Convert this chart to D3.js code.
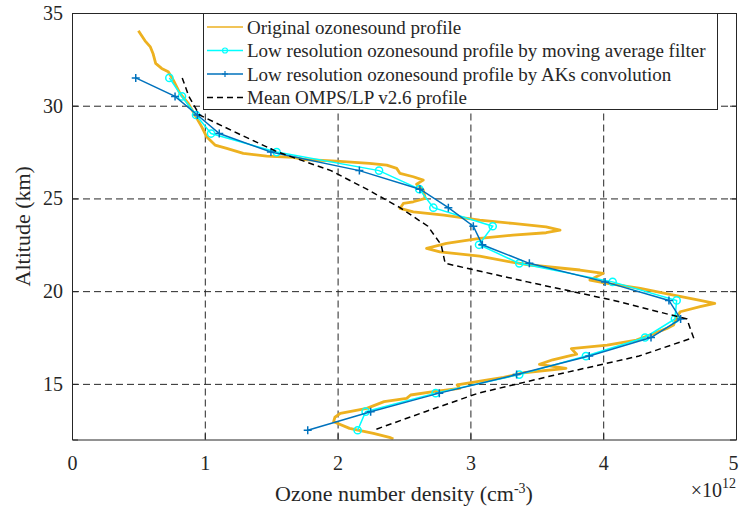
<!DOCTYPE html>
<html>
<head>
<meta charset="utf-8">
<script src="https://cdn.jsdelivr.net/npm/d3@7"></script>
<style>
  body { margin: 0; background: #fff; }
  svg text { font-family: "Liberation Serif", "Tinos", "Times New Roman", "DejaVu Serif", serif; fill: #262626; }
</style>
</head>
<body>
<div id="graph"></div>
<script>
// original ozonesonde profile (altitude km, density 1e12 cm-3)
const origAlt = [34.04, 33.5, 33.17, 32.82, 32.28, 32.01, 31.83, 31.38, 30.66, 30.12, 29.49, 28.86, 28.32, 27.88, 27.7, 27.43, 27.28, 27.21, 27.1, 27.01, 26.89, 26.8, 26.62, 26.35, 26.17, 25.99, 25.77, 25.45, 25.0, 24.82, 24.73, 24.46, 24.28, 24.1, 23.83, 23.65, 23.47, 23.29, 23.15, 23.02, 22.85, 22.58, 22.31, 22.12, 21.89, 21.58, 21.41, 21.14, 20.96, 20.6, 20.42, 20.15, 19.79, 19.52, 19.34, 19.16, 18.89, 18.53, 18.17, 17.99, 17.63, 17.36, 17.09, 16.9, 16.6, 16.3, 16.05, 15.84, 15.6, 15.35, 15.2, 14.94, 14.76, 14.58, 14.4, 14.22, 14.04, 13.68, 13.41, 13.2, 12.96, 12.6, 12.33, 12.12, 12.02];
const origVal = [0.50, 0.55, 0.59, 0.61, 0.63, 0.675, 0.725, 0.763, 0.813, 0.876, 0.926, 0.977, 1.014, 1.077, 1.165, 1.29, 1.466, 1.667, 1.74, 1.99, 2.24, 2.37, 2.445, 2.47, 2.57, 2.645, 2.595, 2.645, 2.66, 2.57, 2.495, 2.47, 2.57, 2.80, 3.07, 3.32, 3.57, 3.675, 3.57, 3.32, 3.07, 2.82, 2.67, 2.77, 3.07, 3.30, 3.45, 3.825, 4.0, 3.90, 4.03, 4.28, 4.53, 4.72, 4.84, 4.73, 4.58, 4.55, 4.53, 4.48, 4.35, 4.25, 4.03, 3.76, 3.80, 3.62, 3.52, 3.72, 3.40, 3.25, 3.12, 2.90, 2.92, 2.72, 2.55, 2.52, 2.35, 2.22, 2.02, 1.98, 1.97, 2.09, 2.27, 2.39, 2.42];

// low resolution profiles on a 1 km grid
const lowAlt = [31.5, 30.5, 29.5, 28.5, 27.5, 26.5, 25.5, 24.5, 23.5, 22.5, 21.5, 20.5, 19.5, 18.5, 17.5, 16.5, 15.5, 14.5, 13.5, 12.5];
const movAvg = [0.733, 0.828, 0.934, 1.047, 1.541, 2.312, 2.615, 2.721, 3.168, 3.065, 3.368, 4.071, 4.553, 4.54, 4.315, 3.87, 3.368, 2.738, 2.211, 2.151];
const aksConv = [0.48, 0.776, 0.944, 1.109, 1.498, 2.164, 2.62, 2.834, 3.022, 3.09, 3.444, 4.014, 4.495, 4.583, 4.36, 3.895, 3.348, 2.766, 2.249, 1.775];
const omps = [0.83, 0.88, 0.96, 1.25, 1.55, 1.95, 2.22, 2.47, 2.68, 2.78, 2.81, 3.43, 4.08, 4.63, 4.68, 4.27, 3.65, 3.06, 2.66, 2.27];

const xTicks = [0, 1, 2, 3, 4, 5];
const yTicks = [15, 20, 25, 30, 35];
const legendLabels = [
  "Original ozonesound profile",
  "Low resolution ozonesound profile by moving average filter",
  "Low resolution ozonesound profile by AKs convolution",
  "Mean OMPS/LP v2.6 profile"
];

const W = 740, H = 510;
const gauche = 72, droite = 736, haut = 13, bas = 439.5;
const orange = "#EDB120", cyan = "#00FFFF", bleu = "#0072BD";
const police = "'Liberation Serif', 'Tinos', 'Times New Roman', 'DejaVu Serif', serif";

const svg = d3.select("#graph").append("svg")
    .attr("width", W)
    .attr("height", H);

const x = d3.scaleLinear().domain([0, 5]).range([gauche, droite]);
const y = d3.scaleLinear().domain([12, 35]).range([bas, haut]);

svg.append("clipPath").attr("id", "clip")
  .append("rect")
    .attr("x", gauche).attr("y", haut)
    .attr("width", droite - gauche).attr("height", bas - haut);

// grille
svg.append("g")
    .attr("transform", "translate(0," + bas + ")")
    .call(d3.axisBottom(x).tickValues(xTicks.slice(1, -1)).tickSize(-(bas - haut)).tickFormat(""))
    .call(g => g.select(".domain").remove())
    .selectAll("line")
    .attr("stroke", "#b0b0b0").attr("stroke-dasharray", "7,4");
svg.append("g")
    .attr("transform", "translate(" + gauche + ",0)")
    .call(d3.axisLeft(y).tickValues(yTicks.slice(0, -1)).tickSize(-(droite - gauche)).tickFormat(""))
    .call(g => g.select(".domain").remove())
    .selectAll("line")
    .attr("stroke", "#b0b0b0").attr("stroke-dasharray", "7,4");

const plot = svg.append("g").attr("clip-path", "url(#clip)");

const orig = origAlt.map((a, i) => ({ alt: a, v: origVal[i] }));
const ligne = d3.line().x(d => x(d.v)).y(d => y(d.alt));

plot.append("path")
    .datum(orig)
    .attr("fill", "none").attr("stroke", orange).attr("stroke-width", 2.8)
    .attr("stroke-linejoin", "round")
    .attr("d", ligne);

const dMov = lowAlt.map((a, i) => ({ alt: a, v: movAvg[i] }));
const dAks = lowAlt.map((a, i) => ({ alt: a, v: aksConv[i] }));
const dOmps = lowAlt.map((a, i) => ({ alt: a, v: omps[i] }));

plot.append("path").datum(dMov)
    .attr("fill", "none").attr("stroke", cyan).attr("stroke-width", 1.5)
    .attr("d", ligne);
plot.selectAll(".mov").data(dMov).enter().append("circle")
    .attr("cx", d => x(d.v)).attr("cy", d => y(d.alt)).attr("r", 3.6)
    .attr("fill", "none").attr("stroke", cyan).attr("stroke-width", 1.5);

plot.append("path").datum(dAks)
    .attr("fill", "none").attr("stroke", bleu).attr("stroke-width", 1.5)
    .attr("d", ligne);
plot.selectAll(".aks").data(dAks).enter().append("path")
    .attr("d", d => "M" + (x(d.v) - 4) + "," + y(d.alt) + "h8M" + x(d.v) + "," + (y(d.alt) - 4) + "v8")
    .attr("stroke", bleu).attr("stroke-width", 1.5);

plot.append("path").datum(dOmps)
    .attr("fill", "none").attr("stroke", "#000").attr("stroke-width", 1.5)
    .attr("stroke-dasharray", "6,4")
    .attr("d", ligne);

// axes
svg.append("g")
    .attr("transform", "translate(0," + bas + ")")
    .call(d3.axisBottom(x).tickValues(xTicks).tickSize(-6).tickPadding(16).tickFormat(d3.format("d")));
svg.append("g")
    .attr("transform", "translate(" + gauche + ",0)")
    .call(d3.axisLeft(y).tickValues(yTicks).tickSize(-6).tickPadding(9).tickFormat(d3.format("d")));
svg.append("g")
    .attr("transform", "translate(0," + haut + ")")
    .call(d3.axisTop(x).tickValues(xTicks).tickSize(-6).tickFormat(""));
svg.append("g")
    .attr("transform", "translate(" + droite + ",0)")
    .call(d3.axisRight(y).tickValues(yTicks).tickSize(-6).tickFormat(""));

svg.selectAll("g").attr("font-family", police);
svg.selectAll(".domain, .tick line").attr("stroke", "#262626");
svg.selectAll(".tick text")
    .style("font-family", police)
    .style("font-size", "20px")
    .attr("fill", "#262626");
// le dernier label (5) reste dans la fenêtre
svg.selectAll(".tick text").filter(d => d === 5).attr("dx", -3);

svg.append("text")
    .attr("transform", "translate(30," + ((haut + bas) / 2) + ") rotate(-90)")
    .attr("text-anchor", "middle")
    .style("font-size", "22px")
    .text("Altitude (km)");

const titreX = svg.append("text")
    .attr("x", 404).attr("y", 501)
    .attr("text-anchor", "middle")
    .style("font-size", "22px");
titreX.append("tspan").text("Ozone number density (cm");
titreX.append("tspan").attr("dy", -8).style("font-size", "14px").text("-3");
titreX.append("tspan").attr("dy", 8).text(")");

const expo = svg.append("text")
    .attr("x", 736).attr("y", 497)
    .attr("text-anchor", "end")
    .style("font-size", "20px");
expo.append("tspan").text("\u00d710");
expo.append("tspan").attr("dy", -9).style("font-size", "14px").text("12");

// légende
const leg = svg.append("g");
leg.append("rect")
    .attr("x", 203.5).attr("y", 13.5).attr("width", 514).attr("height", 96)
    .attr("fill", "#fff").attr("stroke", "#262626").attr("stroke-width", 1);

const styles = [
  { c: orange, w: 1.5, dash: null, m: null },
  { c: cyan, w: 1.5, dash: null, m: "o" },
  { c: bleu, w: 1.5, dash: null, m: "+" },
  { c: "#000", w: 1.5, dash: "6,4", m: null }
];
legendLabels.forEach((lab, i) => {
  const yy = 27 + i * 23.5;
  const s = styles[i];
  leg.append("line")
      .attr("x1", 207).attr("x2", 243).attr("y1", yy).attr("y2", yy)
      .attr("stroke", s.c).attr("stroke-width", s.w)
      .attr("stroke-dasharray", s.dash);
  if (s.m === "o") {
    leg.append("circle").attr("cx", 225).attr("cy", yy).attr("r", 2.5)
        .attr("fill", "none").attr("stroke", s.c).attr("stroke-width", 1.2);
  }
  if (s.m === "+") {
    leg.append("path").attr("d", "M222," + yy + "h6M225," + (yy - 3) + "v6")
        .attr("stroke", s.c).attr("stroke-width", 1.2);
  }
  leg.append("text")
      .attr("x", 247).attr("y", yy + 6.5)
      .style("font-size", "19px")
      .text(lab);
});
</script>
</body>
</html>
